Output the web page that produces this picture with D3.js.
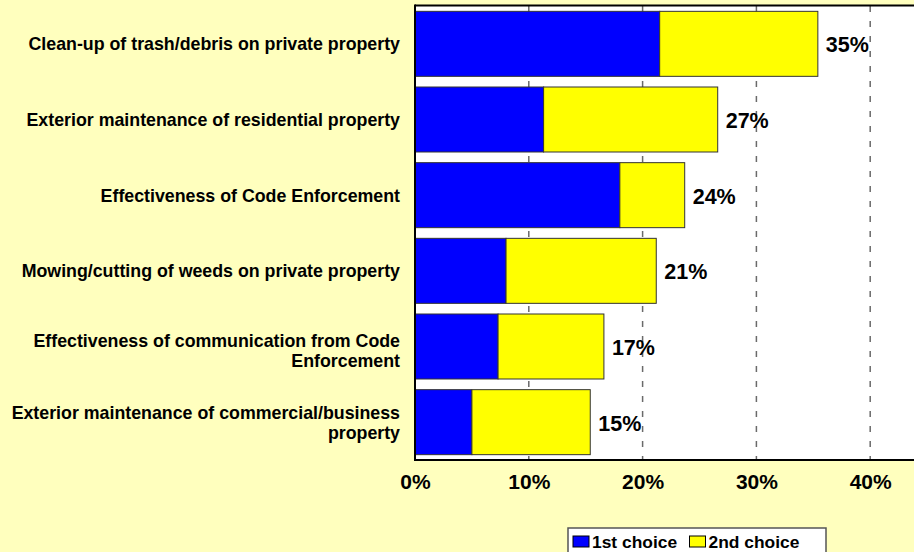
<!DOCTYPE html>
<html>
<head>
<meta charset="utf-8">
<script src="https://cdn.jsdelivr.net/npm/d3@7"></script>
<style>
  html, body { margin: 0; padding: 0; background: #FFFFBE; }
  svg { display: block; }
  text { font-family: "Liberation Sans", Arial, sans-serif; font-weight: bold; fill: #000; }
</style>
</head>
<body>
<svg id="chart" width="914" height="552"></svg>
<script>
// Priorities for code enforcement: share choosing each item as 1st / 2nd choice (%)
const categories = [
  ["Clean-up of trash/debris on private property"],
  ["Exterior maintenance of residential property"],
  ["Effectiveness of Code Enforcement"],
  ["Mowing/cutting of weeds on private property"],
  ["Effectiveness of communication from Code", "Enforcement"],
  ["Exterior maintenance of commercial/business", "property"]
];
const firstChoice  = [21.5, 11.3, 18.0, 8.0, 7.3, 5.0];
const secondChoice = [13.9, 15.3, 5.7, 13.2, 9.3, 10.4];
const seriesNames  = ["1st choice", "2nd choice"];
const seriesColors = ["#0000FF", "#FFFF00"];
const xTicks       = [0, 10, 20, 30, 40];

const svg = d3.select("#chart");
const W = 914, H = 552;
const plot = { left: 415, top: 6, bottom: 460, right: 984 };

const x = d3.scaleLinear().domain([0, 50]).range([plot.left, plot.right]);
const y = d3.scaleBand()
  .domain(d3.range(categories.length))
  .range([plot.top, plot.bottom])
  .paddingInner(0.141)
  .paddingOuter(0.0705);

const rows = categories.map((c, i) => ({
  i, lines: c, first: firstChoice[i], second: secondChoice[i],
  total: firstChoice[i] + secondChoice[i]
}));

// white plot area
svg.append("rect")
  .attr("x", plot.left).attr("y", plot.top)
  .attr("width", W - plot.left).attr("height", plot.bottom - plot.top)
  .attr("fill", "#fff");

// dashed vertical gridlines
svg.append("g")
  .selectAll("line")
  .data(xTicks.filter(t => t > 0))
  .join("line")
  .attr("x1", d => x(d)).attr("x2", d => x(d))
  .attr("y1", plot.top).attr("y2", plot.bottom)
  .attr("stroke", "#6a6a6a")
  .attr("stroke-width", 1.5)
  .attr("stroke-dasharray", "6,9");

// stacked bars
const stack = d3.stack().keys(["first", "second"])(rows);
svg.append("g")
  .selectAll("g")
  .data(stack)
  .join("g")
  .attr("fill", (d, k) => seriesColors[k])
  .selectAll("rect")
  .data(d => d)
  .join("rect")
  .attr("x", d => x(d[0]))
  .attr("y", d => y(d.data.i))
  .attr("width", d => x(d[1]) - x(d[0]))
  .attr("height", y.bandwidth())
  .attr("stroke", "#333")
  .attr("stroke-width", 1);

// total value labels
svg.append("g")
  .selectAll("text")
  .data(rows)
  .join("text")
  .attr("x", d => x(d.total) + 8)
  .attr("y", d => y(d.i) + y.bandwidth() / 2 + 8.5)
  .attr("font-size", "21.5px")
  .text(d => Math.round(d.total) + "%");

// frame: top, left and bottom axis lines
svg.append("line")
  .attr("x1", plot.left).attr("x2", W)
  .attr("y1", plot.top - 0.5).attr("y2", plot.top - 0.5)
  .attr("stroke", "#000").attr("stroke-width", 2);

const xAxis = d3.axisBottom(x).tickValues(xTicks).tickSize(0).tickPadding(0)
  .tickFormat(d => d + "%");
const gx = svg.append("g").attr("transform", `translate(0,${plot.bottom})`).call(xAxis);
gx.select(".domain").remove();
gx.selectAll("text")
  .attr("y", 29)
  .attr("dy", null)
  .attr("font-size", "21px")
  .attr("font-family", null)
  .attr("fill", "#000");

svg.append("line")
  .attr("x1", plot.left - 1).attr("x2", W)
  .attr("y1", plot.bottom).attr("y2", plot.bottom)
  .attr("stroke", "#000").attr("stroke-width", 2);
svg.append("line")
  .attr("x1", plot.left).attr("x2", plot.left)
  .attr("y1", plot.top - 1.5).attr("y2", plot.bottom + 1)
  .attr("stroke", "#000").attr("stroke-width", 2);

// category labels, right-aligned
const lineH = 20;
svg.append("g")
  .selectAll("text")
  .data(rows)
  .join("text")
  .attr("text-anchor", "end")
  .attr("font-size", "17.8px")
  .each(function(d) {
    const cy = y(d.i) + y.bandwidth() / 2;
    const n = d.lines.length;
    d3.select(this).selectAll("tspan")
      .data(d.lines)
      .join("tspan")
      .attr("x", 400)
      .attr("y", (l, j) => cy + 6.4 + (j - (n - 1) / 2) * lineH + (n > 1 && d.i === 4 ? 4 : 0))
      .text(l => l);
  });

// legend
const lg = svg.append("g");
lg.append("rect")
  .attr("x", 568).attr("y", 528)
  .attr("width", 258).attr("height", 40)
  .attr("fill", "#fff")
  .attr("stroke", "#555").attr("stroke-width", 1.5);
const legendX = [573, 689.5];
seriesNames.forEach((name, k) => {
  lg.append("rect")
    .attr("x", legendX[k]).attr("y", 536)
    .attr("width", 16).attr("height", 11)
    .attr("fill", seriesColors[k])
    .attr("stroke", "#000").attr("stroke-width", 1);
  lg.append("text")
    .attr("x", legendX[k] + 19).attr("y", 548)
    .attr("font-size", "17.4px")
    .text(name);
});
</script>
</body>
</html>
